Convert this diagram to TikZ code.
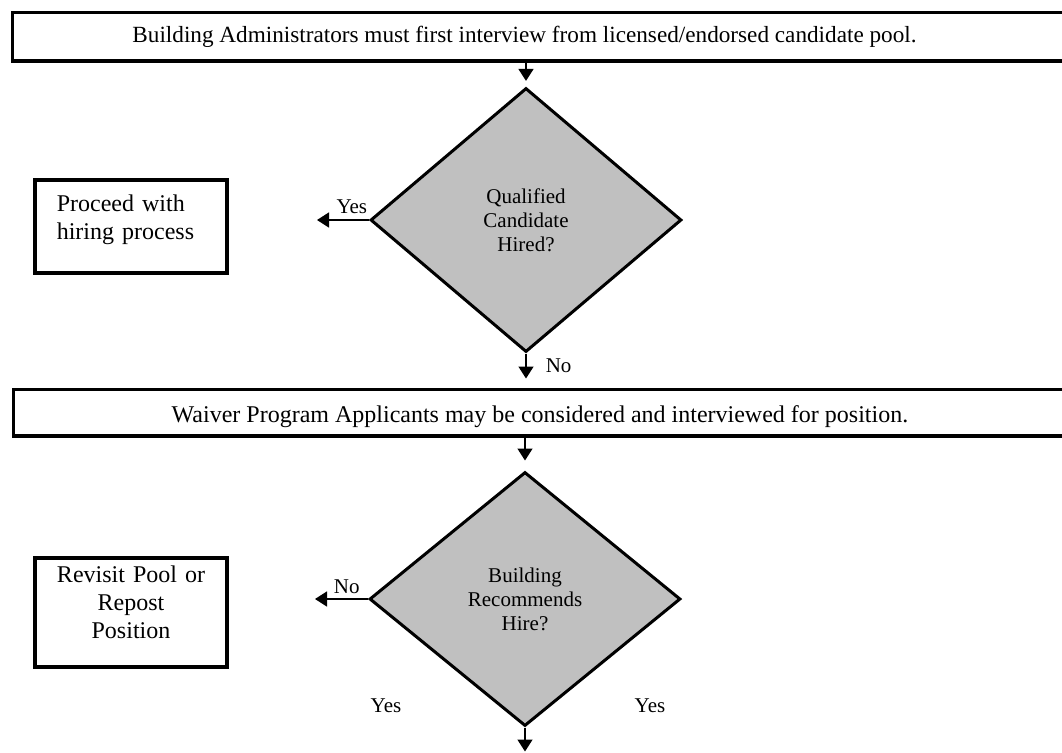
\documentclass[tikz,border=0pt]{standalone}
\usepackage{fontspec}
\setmainfont{Liberation Serif}
\usetikzlibrary{shapes.geometric,arrows.meta,positioning}
\definecolor{decisiongray}{RGB}{192,192,192}

\begin{document}
\begin{tikzpicture}[x=0.5pt,y=-0.5pt,
    every node/.style={font=\fontsize{10.5}{12}\selectfont},
    bar/.style={draw,line width=1.75pt,inner sep=0pt,anchor=north west},
    bartext/.style={font=\fontsize{#1}{14}\selectfont},
    decision/.style={diamond,draw,line width=1.5pt,fill=decisiongray,align=center,inner sep=0pt},
    outcome/.style={draw,line width=1.75pt,minimum width=96.2pt,text width=74.2pt,inner xsep=11pt,
        font=\fontsize{12}{13.8}\selectfont},
    answer/.style={inner sep=0.5pt},
    flow/.style={line width=0.75pt,-{Triangle[length=6pt,width=7.5pt]}}]
\useasboundingbox (0,0) rectangle (1062,752);
\clip (0,0) rectangle (1062,752);

\node[bar,minimum width=545pt,minimum height=24.3pt] (admin) at (10.8,10.8) {};
\node[bartext=11.6] (admintext) at (524.5,37) {Building Administrators must first interview from licensed/endorsed candidate pool.};
\node[decision,minimum width=155.5pt,minimum height=132pt] (hired) at (526,220) {Qualified\\Candidate\\Hired?};
\node[outcome,align=left,minimum height=46.7pt,text depth=23pt] (proceed) at (131,226.5) {Proceed with\\hiring process};

\node[bar,minimum width=545pt,minimum height=23.2pt] (waiver) at (11.8,387.8) {};
\node[bartext=12] (waivertext) at (540,417) {Waiver Program Applicants may be considered and interviewed for position.};
\node[decision,minimum width=155.5pt,minimum height=127pt] (recommend) at (525,599) {Building\\Recommends\\Hire?};
\node[outcome,align=center,minimum height=54.7pt,text depth=38pt] (revisit) at (131,612.5) {Revisit Pool or\\Repost\\Position};

\coordinate[left=26pt of hired.west] (yesend);
\coordinate[below=12.5pt of hired.south] (noend);
\coordinate[left=26.5pt of recommend.west] (noend2);
\coordinate[below=12pt of recommend.south] (hireend);

\draw[flow,shorten >=2.8pt] (admin.south -| hired.north) -- (hired.north);
\draw[flow] (hired.west) -- (yesend) node[answer,pos=0.33,anchor=south,yshift=2.5pt] {Yes};
\draw[flow] (hired.south) -- (noend) node[answer,pos=0.5,right=9pt] {No};
\draw[flow,shorten >=5pt] (waiver.south -| recommend.north) -- (recommend.north);
\draw[flow] (recommend.west) -- (noend2) node[answer,pos=0.4,anchor=south,yshift=2pt] {No};
\draw[flow] (recommend.south) -- (hireend);
\node (yesleft) at (386,706) {Yes};
\node (yesright) at (650,706) {Yes};
\end{tikzpicture}
\end{document}
